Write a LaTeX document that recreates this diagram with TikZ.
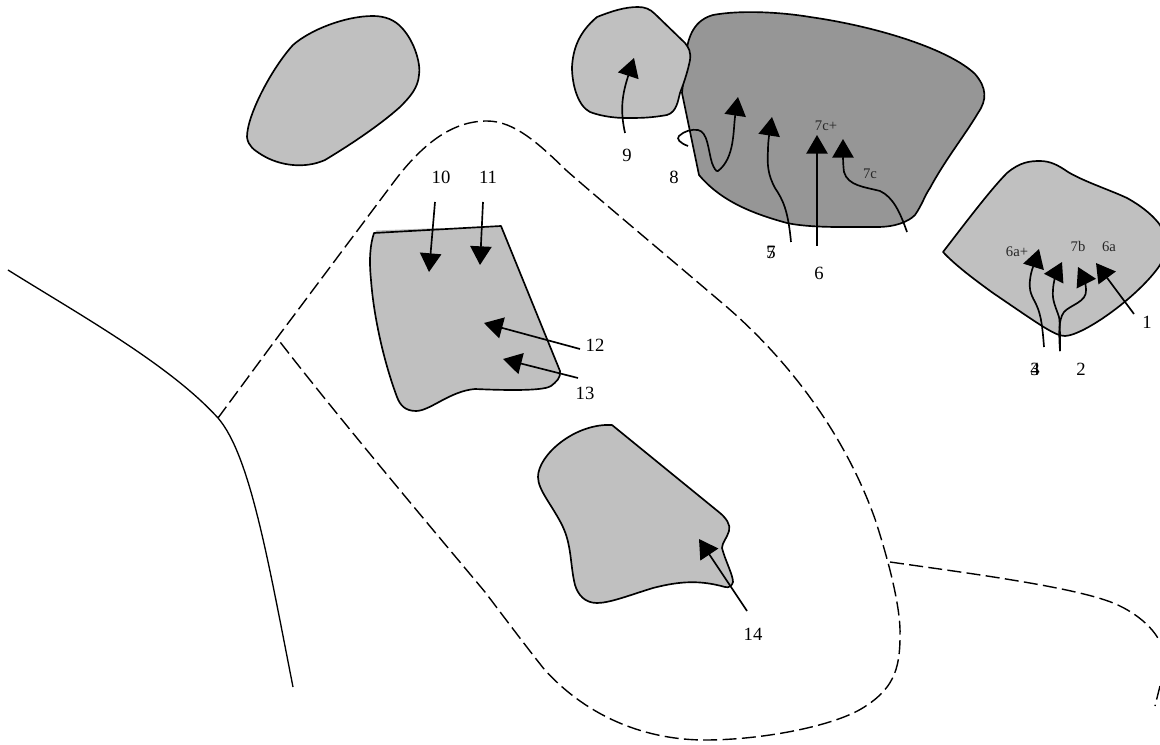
\documentclass[tikz,border=0pt]{standalone}
\usepackage{fontspec}
\setmainfont{Liberation Serif}
\usetikzlibrary{arrows.meta}
\definecolor{lightblob}{HTML}{C0C0C0}
\definecolor{darkblob}{HTML}{969696}
\tikzset{
  blob/.style={draw=black,line width=1.25pt,fill=lightblob,line join=round},
  darkarea/.style={blob,fill=darkblob},
  arr/.style={draw=black,line width=1.25pt,-{Triangle[length=14pt,width=16pt]}},
  solidline/.style={draw=black,line width=1pt},
  dashline/.style={draw=black,line width=1.05pt,dash pattern=on 10.5pt off 4pt},
  lab/.style={inner sep=0pt,font=\fontsize{14}{14}\selectfont,text=black},
  smalllab/.style={inner sep=0pt,font=\fontsize{11}{11}\selectfont,text=black!85},
}
\begin{document}
\begin{tikzpicture}[x=0.75pt,y=-0.75pt]
\useasboundingbox (0,0) rectangle (1160,745);
\clip (0,0) rectangle (1160,745);
% solid boundary
\draw[solidline] (8,270) .. controls (80,315) and (170,365) .. (218,418) .. controls (250,455) and (268,560) .. (293,687);
% dashed boundaries
\draw[dashline] (218,418) -- (277,338) -- (393,183) .. controls (425,140) and (455,121) .. (487,121)
  .. controls (515,121) and (540,145) .. (567,171) .. controls (600,200) and (660,250) .. (728,308)
  .. controls (790,362) and (845,435) .. (875,519) .. controls (890,565) and (901,610) .. (900,636)
  .. controls (900,670) and (893,690) .. (861,709) .. controls (830,727) and (760,740) .. (705,740)
  .. controls (650,740) and (590,720) .. (544,669) .. controls (525,645) and (510,625) .. (485,592)
  .. controls (450,550) and (340,420) .. (277,338);
\draw[dashline] (890,562) .. controls (960,572) and (1060,585) .. (1105,600) .. controls (1130,608) and (1152,625) .. (1160,642);
\draw[dashline] (1160,686) -- (1155,706);
% areas
\draw[blob] (247,137) .. controls (247,115) and (272,68) .. (293,45) .. controls (310,30) and (345,16) .. (373,16)
  .. controls (385,16) and (395,20) .. (402,28) .. controls (415,42) and (421,65) .. (419,75)
  .. controls (418,88) and (410,97) .. (400,107) .. controls (380,125) and (350,145) .. (325,160)
  .. controls (305,169) and (280,166) .. (262,155) .. controls (254,150) and (248,146) .. (247,137) -- cycle;
\draw[darkarea] (682,93) -- (699,175) .. controls (720,200) and (750,213) .. (787,223)
  .. controls (810,228) and (845,227) .. (877,227) .. controls (895,227) and (908,222) .. (915,215)
  .. controls (922,205) and (925,195) .. (930,188) .. controls (945,160) and (965,135) .. (978,113)
  .. controls (987,100) and (987,88) .. (975,74) .. controls (950,50) and (880,27) .. (810,17)
  .. controls (780,12) and (740,10) .. (713,15) .. controls (695,20) and (688,35) .. (686,55) -- cycle;
\draw[blob] (572,67) .. controls (573,50) and (578,33) .. (597,17) .. controls (612,11) and (625,7) .. (638,7)
  .. controls (645,7) and (650,9) .. (655,14) -- (685,43) .. controls (689,48) and (691,52) .. (690,60)
  .. controls (688,70) and (685,80) .. (680,93) .. controls (678,100) and (677,112) .. (667,115)
  .. controls (650,118) and (640,118) .. (627,118) .. controls (610,118) and (598,115) .. (590,112)
  .. controls (578,106) and (572,85) .. (572,67) -- cycle;
\draw[blob] (943,252) .. controls (960,230) and (990,190) .. (1007,173) .. controls (1020,162) and (1030,161) .. (1040,161)
  .. controls (1050,161) and (1058,165) .. (1068,172) .. controls (1085,182) and (1110,190) .. (1127,198)
  .. controls (1145,208) and (1155,218) .. (1160,225) .. controls (1166,235) and (1166,255) .. (1160,265)
  .. controls (1140,295) and (1085,335) .. (1065,336) .. controls (1055,336) and (1040,325) .. (993,293)
  .. controls (975,280) and (955,265) .. (943,252) -- cycle;
\fill[lightblob] (375,234) -- (376,230.5) -- (440,228) -- (440,231) -- cycle;
\draw[blob] (374,233) -- (501,226) -- (560,371) .. controls (561,378) and (556,382) .. (551,386)
  .. controls (545,390) and (520,391) .. (475,389) .. controls (450,391) and (430,411) .. (416,411)
  .. controls (405,411) and (400,405) .. (397,397) .. controls (385,365) and (374,320) .. (371,280)
  .. controls (369,260) and (370,245) .. (374,233) -- cycle;
\draw[blob] (612,425) -- (720,513) .. controls (726,518) and (731,525) .. (729,531)
  .. controls (727,538) and (722,543) .. (722,548) .. controls (725,560) and (733,575) .. (733,582)
  .. controls (732,586) and (729,588) .. (725,587) .. controls (700,580) and (680,581) .. (653,588)
  .. controls (630,595) and (610,603) .. (597,603) .. controls (585,603) and (578,595) .. (575,585)
  .. controls (570,565) and (572,545) .. (562,525) .. controls (552,505) and (538,490) .. (538,477)
  .. controls (538,455) and (575,423) .. (612,425) -- cycle;
% arrows
\draw[arr] (625,133) .. controls (620,110) and (622,95) .. (634,58);
\draw[arr] (688,146) .. controls (680,143) and (676,139) .. (679,136) .. controls (684,131) and (692,129) .. (698,130)
  .. controls (708,132) and (708,150) .. (712,163) .. controls (714,168) and (716,172) .. (718,171)
  .. controls (735,158) and (733,130) .. (738,97);
\draw[arr] (791,242) .. controls (788,210) and (783,200) .. (775,188) .. controls (768,175) and (767,165) .. (768,150)
  .. controls (768,140) and (770,130) .. (772,117);
\draw[arr] (817,246) -- (817,135);
\draw[arr] (907,232) .. controls (900,212) and (893,197) .. (880,191) .. controls (865,187) and (848,186) .. (844,172)
  .. controls (843,165) and (843,155) .. (843,139);
\draw[arr] (1134,314) -- (1096,263);
\draw[arr] (1044,347) .. controls (1042,320) and (1040,312) .. (1035,302) .. controls (1030,293) and (1029,288) .. (1030,280)
  .. controls (1031,270) and (1035,262) .. (1039,249);
\draw[arr] (1060,351) .. controls (1060,335) and (1060,322) .. (1059,317) .. controls (1055,305) and (1052,300) .. (1053,290)
  .. controls (1053,283) and (1057,272) .. (1062,262);
\draw[arr] (1060,351) .. controls (1059,335) and (1058,320) .. (1064,312) .. controls (1070,305) and (1087,302) .. (1086,290)
  .. controls (1086,282) and (1082,275) .. (1078,267);
\draw[arr] (435,202) -- (429,272);
\draw[arr] (483,202) -- (480,265);
\draw[arr] (580,349) -- (484,323);
\draw[arr] (578,378) -- (503,359);
\draw[arr] (747,611) -- (699,539);
% labels
\node[lab] (n1) at (1147,322) {1};
\node[lab] (n2) at (1081,369) {2};
\node[lab] (n3) at (1035,369) {3};
\node[lab] (n4) at (1035,369) {4};
\node[lab] (n5) at (771,252) {5};
\node[lab] (n6) at (819,273) {6};
\node[lab] (n7) at (771,252) {7};
\node[lab] (n8) at (674,177) {8};
\node[lab] (n9) at (627,155) {9};
\node[lab] (n10) at (441,177) {10};
\node[lab] (n11) at (488,177) {11};
\node[lab] (n12) at (595,345) {12};
\node[lab] (n13) at (585,393) {13};
\node[lab] (n14) at (753,634) {14};
\node[smalllab] (s6ap) at (1017,252) {6a+};
\node[smalllab] (s7b) at (1078,246) {7b};
\node[smalllab] (s6a) at (1109,247) {6a};
\node[smalllab] (s7cp) at (826,126) {7c+};
\node[smalllab] (s7c) at (870,174) {7c};
\end{tikzpicture}
\end{document}
